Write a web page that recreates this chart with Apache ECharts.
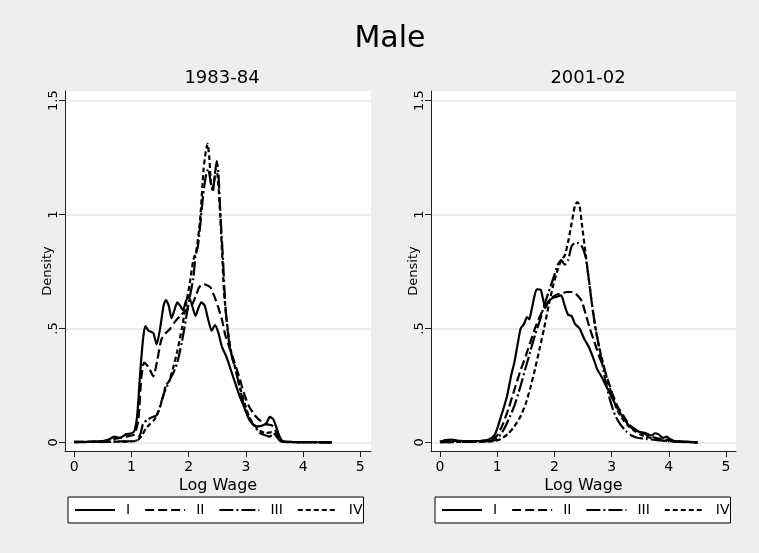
<!DOCTYPE html>
<html>
<head>
<meta charset="utf-8">
<script src="https://cdn.jsdelivr.net/npm/echarts@6/dist/echarts.min.js"></script>
<style>
html,body{margin:0;padding:0;background:#eeeeee;}
#chart{width:759px;height:553px;}
</style>
</head>
<body>
<div id="chart"></div>
<script>
// ---- Data ----
const mainTitle = 'Male';
const panelTitles = ['1983-84', '2001-02'];
const seriesNames = ['I', 'II', 'III', 'IV'];
const xTicks = [0, 1, 2, 3, 4, 5];
const yTicks = [0, 0.5, 1, 1.5];
const yTickLabels = ['0', '.5', '1', '1.5'];
const xAxisTitle = 'Log Wage';
const yAxisTitle = 'Density';

// 1983-84 panel: [log wage, density]
const p1_I = [[0,0.002],[0.3,0.003],[0.5,0.005],[0.6,0.012],[0.7,0.025],[0.8,0.02],[0.9,0.035],[1.0,0.04],[1.05,0.05],[1.1,0.12],[1.15,0.3],[1.2,0.45],[1.24,0.51],[1.3,0.49],[1.38,0.48],[1.44,0.43],[1.5,0.5],[1.56,0.6],[1.6,0.625],[1.65,0.6],[1.7,0.545],[1.75,0.58],[1.8,0.615],[1.85,0.6],[1.9,0.58],[1.95,0.62],[2.0,0.64],[2.06,0.6],[2.12,0.555],[2.17,0.59],[2.22,0.615],[2.28,0.6],[2.33,0.55],[2.4,0.49],[2.46,0.515],[2.52,0.48],[2.58,0.42],[2.66,0.375],[2.72,0.33],[2.8,0.27],[2.88,0.21],[2.96,0.16],[3.04,0.11],[3.12,0.08],[3.2,0.07],[3.3,0.075],[3.36,0.085],[3.42,0.112],[3.48,0.1],[3.54,0.06],[3.59,0.025],[3.64,0.005],[3.7,0.002],[4.0,0.001],[4.5,0]];
const p1_II = [[0,0.002],[0.5,0.005],[0.7,0.015],[0.9,0.025],[1.05,0.035],[1.12,0.1],[1.17,0.28],[1.22,0.35],[1.3,0.33],[1.38,0.29],[1.45,0.36],[1.52,0.45],[1.6,0.48],[1.68,0.5],[1.76,0.53],[1.85,0.555],[1.95,0.58],[2.05,0.6],[2.12,0.64],[2.18,0.68],[2.25,0.695],[2.32,0.69],[2.38,0.68],[2.45,0.64],[2.52,0.59],[2.58,0.54],[2.64,0.47],[2.72,0.41],[2.8,0.35],[2.88,0.29],[2.96,0.22],[3.05,0.16],[3.15,0.12],[3.25,0.095],[3.35,0.08],[3.45,0.075],[3.5,0.06],[3.56,0.03],[3.62,0.008],[3.7,0.002],[4.5,0]];
const p1_III = [[0,0.001],[0.5,0.002],[0.8,0.004],[1.0,0.005],[1.1,0.01],[1.16,0.04],[1.2,0.08],[1.28,0.1],[1.36,0.11],[1.44,0.12],[1.5,0.16],[1.56,0.21],[1.62,0.245],[1.68,0.28],[1.74,0.31],[1.8,0.35],[1.88,0.44],[1.95,0.54],[2.02,0.64],[2.08,0.72],[2.12,0.82],[2.16,0.86],[2.2,0.95],[2.25,1.08],[2.3,1.17],[2.34,1.2],[2.38,1.15],[2.42,1.1],[2.46,1.18],[2.49,1.235],[2.52,1.18],[2.55,1.02],[2.6,0.8],[2.64,0.6],[2.7,0.45],[2.76,0.37],[2.82,0.32],[2.9,0.23],[2.98,0.15],[3.06,0.1],[3.15,0.07],[3.25,0.04],[3.35,0.03],[3.42,0.025],[3.48,0.04],[3.53,0.03],[3.58,0.01],[3.65,0.002],[4.5,0]];
const p1_IV = [[0,0.001],[0.5,0.002],[1.0,0.004],[1.1,0.008],[1.18,0.03],[1.25,0.06],[1.32,0.08],[1.4,0.1],[1.48,0.14],[1.55,0.2],[1.6,0.25],[1.66,0.27],[1.72,0.32],[1.8,0.4],[1.88,0.5],[1.95,0.6],[2.02,0.7],[2.08,0.8],[2.14,0.85],[2.2,0.98],[2.26,1.2],[2.3,1.28],[2.33,1.31],[2.36,1.25],[2.4,1.12],[2.44,1.13],[2.47,1.2],[2.5,1.18],[2.54,1.05],[2.58,0.85],[2.62,0.65],[2.68,0.5],[2.74,0.4],[2.82,0.32],[2.9,0.24],[2.98,0.17],[3.06,0.11],[3.15,0.075],[3.25,0.05],[3.35,0.04],[3.45,0.045],[3.5,0.04],[3.56,0.015],[3.62,0.004],[3.7,0.002],[4.5,0]];

// 2001-02 panel
const p2_I = [[0,0.002],[0.1,0.01],[0.2,0.012],[0.3,0.008],[0.5,0.005],[0.7,0.006],[0.85,0.012],[0.95,0.03],[1.0,0.06],[1.05,0.1],[1.1,0.14],[1.17,0.2],[1.25,0.3],[1.3,0.35],[1.35,0.42],[1.41,0.5],[1.47,0.52],[1.52,0.55],[1.56,0.54],[1.6,0.58],[1.65,0.64],[1.69,0.672],[1.76,0.67],[1.8,0.63],[1.84,0.59],[1.9,0.62],[1.98,0.635],[2.05,0.64],[2.12,0.645],[2.18,0.6],[2.24,0.56],[2.3,0.555],[2.36,0.52],[2.44,0.5],[2.52,0.455],[2.6,0.42],[2.68,0.37],[2.75,0.32],[2.82,0.29],[2.9,0.25],[3.0,0.2],[3.1,0.15],[3.2,0.11],[3.3,0.075],[3.4,0.055],[3.5,0.045],[3.6,0.04],[3.7,0.03],[3.76,0.04],[3.82,0.035],[3.9,0.02],[3.96,0.025],[4.02,0.015],[4.1,0.005],[4.5,0]];
const p2_II = [[0,0.002],[0.1,0.008],[0.3,0.006],[0.6,0.004],[0.9,0.01],[1.0,0.03],[1.1,0.08],[1.2,0.15],[1.3,0.23],[1.4,0.31],[1.5,0.38],[1.58,0.44],[1.66,0.5],[1.74,0.55],[1.82,0.59],[1.9,0.62],[1.98,0.64],[2.06,0.65],[2.14,0.655],[2.22,0.66],[2.3,0.66],[2.36,0.655],[2.42,0.64],[2.48,0.62],[2.55,0.56],[2.62,0.5],[2.7,0.44],[2.78,0.38],[2.86,0.33],[2.94,0.27],[3.02,0.21],[3.1,0.16],[3.2,0.12],[3.3,0.08],[3.4,0.06],[3.5,0.045],[3.6,0.035],[3.7,0.025],[3.8,0.018],[3.9,0.015],[4.0,0.01],[4.1,0.004],[4.5,0]];
const p2_III = [[0,0.001],[0.5,0.002],[0.9,0.006],[1.0,0.015],[1.1,0.05],[1.2,0.1],[1.3,0.16],[1.4,0.24],[1.5,0.33],[1.58,0.4],[1.66,0.47],[1.74,0.53],[1.82,0.6],[1.9,0.66],[1.98,0.72],[2.06,0.78],[2.12,0.8],[2.18,0.78],[2.24,0.8],[2.3,0.86],[2.36,0.875],[2.42,0.875],[2.48,0.86],[2.54,0.82],[2.6,0.72],[2.66,0.6],[2.72,0.5],[2.78,0.42],[2.84,0.34],[2.9,0.26],[2.98,0.18],[3.06,0.12],[3.15,0.08],[3.25,0.05],[3.35,0.03],[3.45,0.02],[3.6,0.015],[3.8,0.01],[4.0,0.005],[4.2,0.002],[4.5,0]];
const p2_IV = [[0,0.001],[0.5,0.002],[0.9,0.004],[1.0,0.008],[1.1,0.02],[1.2,0.04],[1.3,0.07],[1.4,0.11],[1.5,0.17],[1.58,0.24],[1.66,0.32],[1.74,0.41],[1.82,0.5],[1.9,0.6],[1.98,0.69],[2.06,0.76],[2.12,0.8],[2.18,0.82],[2.24,0.88],[2.3,0.96],[2.36,1.04],[2.4,1.055],[2.44,1.04],[2.48,0.96],[2.54,0.84],[2.6,0.72],[2.66,0.6],[2.72,0.5],[2.78,0.42],[2.86,0.34],[2.94,0.26],[3.02,0.2],[3.1,0.14],[3.2,0.1],[3.3,0.07],[3.4,0.05],[3.5,0.035],[3.6,0.025],[3.7,0.018],[3.8,0.012],[3.9,0.008],[4.0,0.005],[4.5,0]];

const panelData = [[p1_I, p1_II, p1_III, p1_IV], [p2_I, p2_II, p2_III, p2_IV]];

// ---- Styling ----
const FONT = '"DejaVu Sans", "Liberation Sans", Arial, sans-serif';
const dashTypes = ['solid', [9, 4], [14, 3, 2, 3], [5, 3]];
const grids = [
  {left: 65, top: 91, width: 306, height: 360},
  {left: 431, top: 91, width: 305, height: 360}
];
const xRanges = [[-0.163, 5.187], [-0.157, 5.175]];
const yRange = [-0.038, 1.5425];

const chart = echarts.init(document.getElementById('chart'), null, {renderer: 'canvas'});

const option = {
  animation: false,
  backgroundColor: '#eeeeee',
  textStyle: {fontFamily: FONT},
  title: [
    {text: mainTitle, left: 385, top: 19, textAlign: 'center',
     textStyle: {fontFamily: FONT, fontSize: 30, fontWeight: 'normal', color: '#000'}},
    {text: panelTitles[0], left: 217, top: 64, textAlign: 'center',
     textStyle: {fontFamily: FONT, fontSize: 18, fontWeight: 'normal', color: '#000'}},
    {text: panelTitles[1], left: 583, top: 64, textAlign: 'center',
     textStyle: {fontFamily: FONT, fontSize: 18, fontWeight: 'normal', color: '#000'}}
  ],
  grid: grids.map(g => Object.assign({show: true, backgroundColor: '#ffffff', borderWidth: 0, containLabel: false}, g)),
  xAxis: [0, 1].map(i => ({
    type: 'value', gridIndex: i, min: xRanges[i][0], max: xRanges[i][1],
    name: xAxisTitle, nameLocation: 'middle', nameGap: 27, nameMoveOverlap: false,
    nameTextStyle: {fontFamily: FONT, fontSize: 16, color: '#000'},
    axisLine: {show: true, onZero: false, lineStyle: {color: '#222', width: 1}},
    axisTick: {show: true, length: 6, customValues: xTicks, lineStyle: {color: '#222'}},
    axisLabel: {customValues: xTicks, margin: 9, fontFamily: FONT, fontSize: 14, color: '#000',
                formatter: v => String(v)},
    splitLine: {show: false}
  })),
  yAxis: [0, 1].map(i => ({
    type: 'value', gridIndex: i, min: yRange[0], max: yRange[1],
    name: yAxisTitle, nameLocation: 'middle', nameGap: 11, nameRotate: 90, nameMoveOverlap: false,
    nameTextStyle: {fontFamily: FONT, fontSize: 13, color: '#000'},
    axisLine: {show: true, onZero: false, lineStyle: {color: '#222', width: 1}},
    axisTick: {show: true, length: 6, customValues: yTicks, lineStyle: {color: '#222'}},
    axisLabel: {customValues: yTicks, rotate: 90, margin: 5, fontFamily: FONT, fontSize: 13, color: '#000',
                formatter: v => yTickLabels[yTicks.indexOf(v)] !== undefined ? yTickLabels[yTicks.indexOf(v)] : ''},
    splitLine: {show: true, lineStyle: {color: '#e4e4e4', width: 1.5}}
  })),
  legend: [0, 1].map(i => ({
    data: seriesNames,
    left: i === 0 ? 68 : 435, top: 497,
    orient: 'horizontal',
    itemWidth: 40, itemHeight: 14, itemGap: 14,
    padding: [6, 1, 6, 6],
    borderColor: '#000', borderWidth: 1, backgroundColor: '#ffffff',
    itemStyle: {color: 'rgba(0,0,0,0)', borderWidth: 0, opacity: 0},
    textStyle: {fontFamily: FONT, fontSize: 14, color: '#000', padding: [0, 0, 0, 6]},
    selectedMode: false
  })),
  series: []
};

panelData.forEach((arr, p) => {
  arr.forEach((d, k) => {
    option.series.push({
      name: seriesNames[k], type: 'line', xAxisIndex: p, yAxisIndex: p,
      data: d, symbol: 'none', smooth: 0.2,
      lineStyle: {color: '#000', width: 2.2, type: dashTypes[k]},
      itemStyle: {color: '#000'},
      silent: true
    });
  });
});

chart.setOption(option);
</script>
</body>
</html>
